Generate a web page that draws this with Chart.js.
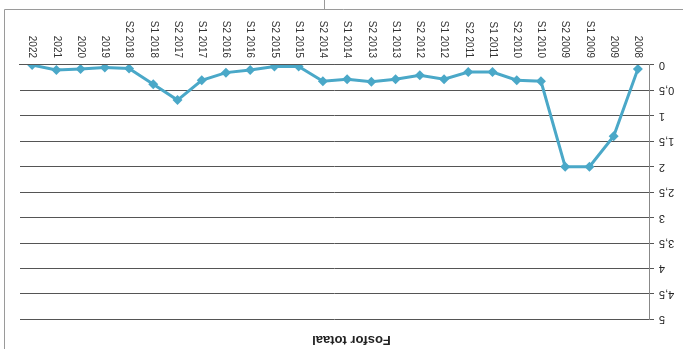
<!DOCTYPE html>
<html>
<head>
<meta charset="utf-8">
<script src="https://cdn.jsdelivr.net/npm/chart.js@4/dist/chart.umd.min.js"></script>
<style>
  html, body { margin: 0; padding: 0; background: #fff; }
  #wrap { width: 683px; height: 349px; transform: rotate(180deg); }
</style>
</head>
<body>
<div id="wrap"><canvas id="chart" width="683" height="349"></canvas></div>
<script>
// the scan is upside down, so the chart is drawn normally and the box is turned over
var labels = ["2008", "2009", "S1 2009", "S2 2009", "S1 2010", "S2 2010", "S1 2011", "S2 2011",
  "S1 2012", "S2 2012", "S1 2013", "S2 2013", "S1 2014", "S2 2014", "S1 2015", "S2 2015",
  "S1 2016", "S2 2016", "S1 2017", "S2 2017", "S1 2018", "S2 2018", "2019", "2020", "2021", "2022"];
var fosfor = [0.08, 1.4, 2.0, 2.0, 0.32, 0.3, 0.14, 0.14, 0.28, 0.2, 0.28, 0.33, 0.28, 0.32,
  0.03, 0.03, 0.1, 0.15, 0.3, 0.69, 0.38, 0.07, 0.05, 0.08, 0.1, 0.0];
var yMin = 0, yMax = 5, yStep = 0.5;

var frame = {
  id: "frame",
  afterDraw: function (chart) {
    var c = chart.ctx;
    c.save();
    c.strokeStyle = "#9a9a9a";
    c.lineWidth = 1;
    c.beginPath();
    c.moveTo(0, 339.5); c.lineTo(678.5, 339.5); c.lineTo(678.5, 0);
    c.moveTo(358.5, 339.5); c.lineTo(358.5, 349);
    c.stroke();
    c.restore();
  }
};

new Chart(document.getElementById("chart").getContext("2d"), {
  type: "line",
  data: {
    labels: labels,
    datasets: [{
      label: "Fosfor totaal",
      data: fosfor,
      borderColor: "#4aa8c8",
      backgroundColor: "#4aa8c8",
      borderWidth: 3,
      pointStyle: "rectRot",
      pointRadius: 5,
      pointBorderWidth: 0,
      tension: 0,
      fill: false
    }]
  },
  options: {
    responsive: false,
    animation: false,
    layout: { padding: { left: 0, right: 20, top: 0, bottom: 0 } },
    plugins: {
      legend: { display: false },
      tooltip: { enabled: false },
      title: {
        display: true,
        text: "Fosfor totaal",
        color: "#222",
        font: { family: "Liberation Sans", size: 13, weight: "600" },
        padding: { top: 2, bottom: 12 }
      }
    },
    scales: {
      x: {
        offset: true,
        afterFit: function (s) { s.height = 65; },
        grid: { display: true, drawOnChartArea: false, tickLength: 0, color: "#555" },
        border: { display: true, color: "#555", width: 1 },
        ticks: {
          autoSkip: false,
          minRotation: 90,
          maxRotation: 90,
          padding: 7,
          color: "#333",
          font: { family: "Liberation Sans", size: 10 }
        }
      },
      y: {
        min: yMin,
        max: yMax,
        afterFit: function (s) { s.width = 33; },
        grid: { color: "#555", lineWidth: 1, tickLength: 4 },
        border: { display: true, color: "#888", width: 1 },
        ticks: {
          stepSize: yStep,
          padding: 5,
          color: "#222",
          font: { family: "Liberation Sans", size: 11 },
          callback: function (v) { return String(v).replace(".", ","); }
        }
      }
    }
  },
  plugins: [frame]
});
</script>
</body>
</html>
